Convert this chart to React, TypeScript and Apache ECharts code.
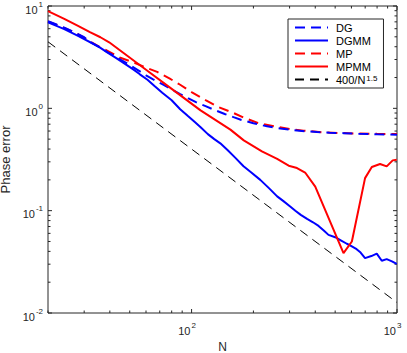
import React, { useEffect, useRef } from 'react';
import * as echarts from 'echarts';

// ---- data ----
const dgN = [20, 22, 24, 26, 28, 30, 32, 35, 38, 42, 45, 50, 55, 60, 65, 72, 80, 88, 96, 105, 117, 130, 145, 160, 175, 200, 233, 270, 314, 360, 408, 470, 549, 650, 800, 1000];
const dgV = [7.1, 6.6, 6.15, 5.7, 5.3, 4.95, 4.45, 4.05, 3.65, 3.25, 3.0, 2.65, 2.35, 2.1, 1.92, 1.72, 1.53, 1.38, 1.26, 1.15, 1.05, 0.96, 0.88, 0.82, 0.77, 0.715, 0.667, 0.635, 0.612, 0.597, 0.586, 0.578, 0.572, 0.565, 0.558, 0.553];

const dgmmN = [20, 22, 24, 26, 28, 30, 33, 36, 39, 43, 47, 52, 56, 61, 66, 72, 80, 88, 96, 104, 111, 120, 129, 138, 150, 163, 179, 196, 216, 238, 261, 280, 302, 320, 340, 365, 390, 415, 440, 464, 500, 535, 570, 600, 636, 665, 699, 750, 797, 843, 891, 945, 997];
const dgmmV = [6.94, 6.4, 5.95, 5.5, 5.1, 4.75, 4.3, 3.9, 3.5, 3.1, 2.75, 2.4, 2.15, 1.9, 1.65, 1.42, 1.2, 0.98, 0.84, 0.73, 0.65, 0.56, 0.5, 0.455, 0.39, 0.33, 0.272, 0.235, 0.2, 0.166, 0.138, 0.124, 0.11, 0.1, 0.091, 0.083, 0.077, 0.071, 0.064, 0.058, 0.055, 0.051, 0.0475, 0.045, 0.042, 0.039, 0.0344, 0.036, 0.038, 0.0324, 0.0336, 0.032, 0.0302];

const mpN = [20, 24, 28, 32, 36, 40, 45, 52.5, 60, 68, 78, 88, 100, 117, 135, 160, 180, 210, 261, 300, 351, 430, 529, 650, 800, 1000];
const mpV = [7.05, 6.1, 5.3, 4.5, 3.95, 3.55, 3.12, 2.8, 2.5, 2.27, 1.96, 1.7, 1.44, 1.2, 1.03, 0.9, 0.81, 0.72, 0.658, 0.628, 0.605, 0.585, 0.574, 0.567, 0.563, 0.56];

const mpmmN = [20, 24, 28, 32, 36, 39.7, 60, 80, 110.6, 154.5, 179.5, 220, 261, 297, 326, 357, 400, 549, 603, 699, 754, 827, 891, 953, 997];
const mpmmV = [8.9, 7.5, 6.4, 5.55, 4.95, 4.42, 2.38, 1.55, 0.956, 0.619, 0.486, 0.379, 0.32, 0.275, 0.261, 0.236, 0.172, 0.0385, 0.05, 0.208, 0.267, 0.286, 0.271, 0.31, 0.315];

const refN = [20, 1000];
const refV = [4.47, 0.01265];

const xTickValues = [20, 30, 40, 50, 60, 70, 80, 90, 100, 200, 300, 400, 500, 600, 700, 800, 900, 1000];
const yTickValues = [0.01, 0.02, 0.03, 0.04, 0.05, 0.06, 0.07, 0.08, 0.09, 0.1, 0.2, 0.3, 0.4, 0.5, 0.6, 0.7, 0.8, 0.9, 1, 2, 3, 4, 5, 6, 7, 8, 9, 10];

const legendNames = ['DG', 'DGMM', 'MP', 'MPMM', '400/N^1.5'];

const FONT = "'Liberation Sans', Arial, Helvetica, sans-serif";
const AX = '#262626';
const X_MIN = 20, X_MAX = 1000, Y_MIN = 0.01, Y_MAX = 10;

const zip = (n: number[], v: number[]) => n.map((x, i) => [x, v[i]]);
const isPow10 = (v: number) => {
  const e = Math.log10(v);
  return Math.abs(e - Math.round(e)) < 1e-6;
};
const powLabel = (v: number) => {
  if (!isPow10(v)) return '';
  return `{b|10}{s|${Math.round(Math.log10(v))}}`;
};

const richLabel = {
  b: { fontSize: 11, fontFamily: FONT, color: AX, lineHeight: 15, verticalAlign: 'bottom' },
  s: { fontSize: 8, fontFamily: FONT, color: AX, lineHeight: 9, verticalAlign: 'top', padding: [0, 0, 0, 1] },
};

export default function App() {
  const ref = useRef<HTMLDivElement>(null);
  useEffect(() => {
    document.body.style.margin = '0';
    const chart = echarts.init(ref.current!, null, { renderer: 'svg' });
    const lineSeries = (name: string, n: number[], v: number[], color: string, dashed: boolean, width = 2, dash = [10, 6]) => ({
      name,
      type: 'line',
      data: zip(n, v),
      symbol: 'none',
      showSymbol: false,
      smooth: false,
      lineStyle: { color, width, type: dashed ? dash : 'solid' },
      itemStyle: { color },
      emphasis: { disabled: true },
    });
    const option: any = {
      animation: false,
      backgroundColor: '#fff',
      grid: {
        left: 48, right: 10, top: 6, bottom: 40, show: true, borderColor: AX, borderWidth: 1, backgroundColor: 'transparent',
        containLabel: false, outerBoundsMode: 'none',
      },
      xAxis: {
        type: 'log', logBase: 10, min: X_MIN, max: X_MAX,
        axisLine: { show: false }, axisTick: { show: false }, splitLine: { show: false }, minorTick: { show: false },
        axisLabel: { formatter: powLabel, rich: richLabel, margin: 8, padding: [0, 9, 0, 0], showMinLabel: true, showMaxLabel: true },
        name: 'N', nameLocation: 'middle', nameGap: 27,
        nameTextStyle: { fontSize: 12, color: AX, fontFamily: FONT },
      },
      yAxis: {
        type: 'log', logBase: 10, min: Y_MIN, max: Y_MAX,
        axisLine: { show: false }, axisTick: { show: false }, splitLine: { show: false }, minorTick: { show: false },
        axisLabel: { formatter: powLabel, rich: richLabel, margin: 5, padding: [3, 0, 0, 0] },
        name: 'Phase error', nameLocation: 'middle', nameGap: 31, nameRotate: 90,
        nameTextStyle: { fontSize: 13, color: AX, fontFamily: FONT },
      },
      legend: {
        data: legendNames,
        orient: 'vertical', left: 288, top: 19,
        itemWidth: 33, itemHeight: 13, itemGap: 2,
        padding: [3, 6, 3, 6],
        backgroundColor: '#fff', borderColor: AX, borderWidth: 1,
        itemStyle: { opacity: 0 },
        formatter: (name: string) => (name === '400/N^1.5' ? '400/N{s|1.5}' : name),
        textStyle: {
          fontSize: 11, color: '#000', fontFamily: FONT, padding: [0, 0, 0, 3],
          rich: { s: { fontSize: 8, fontFamily: FONT, color: '#000', verticalAlign: 'top', lineHeight: 9, padding: [0, 0, 0, 1] } },
        },
        selectedMode: false,
        z: 10,
      },
      series: [
        lineSeries('MP', mpN, mpV, '#ff0000', true),
        lineSeries('DG', dgN, dgV, '#0000ff', true),
        lineSeries('DGMM', dgmmN, dgmmV, '#0000ff', false),
        lineSeries('MPMM', mpmmN, mpmmV, '#ff0000', false),
        lineSeries('400/N^1.5', refN, refV, '#000000', true, 1, [9, 6]),
        {
          type: 'custom', silent: true, clip: false,
          data: xTickValues.map((v) => [v, 1]),
          renderItem: (_p: any, api: any) => {
            const v = api.value(0);
            const len = isPow10(v) ? 4 : 2.5;
            const b = api.coord([v, Y_MIN]);
            const t = api.coord([v, Y_MAX]);
            return {
              type: 'group', children: [
                { type: 'line', shape: { x1: b[0], y1: b[1], x2: b[0], y2: b[1] - len }, style: { stroke: AX, lineWidth: 1 } },
                { type: 'line', shape: { x1: t[0], y1: t[1], x2: t[0], y2: t[1] + len }, style: { stroke: AX, lineWidth: 1 } },
              ],
            };
          },
        },
        {
          type: 'custom', silent: true, clip: false,
          data: yTickValues.map((v) => [100, v]),
          renderItem: (_p: any, api: any) => {
            const v = api.value(1);
            const len = isPow10(v) ? 4 : 2.5;
            const l = api.coord([X_MIN, v]);
            const r = api.coord([X_MAX, v]);
            return {
              type: 'group', children: [
                { type: 'line', shape: { x1: l[0], y1: l[1], x2: l[0] + len, y2: l[1] }, style: { stroke: AX, lineWidth: 1 } },
                { type: 'line', shape: { x1: r[0], y1: r[1], x2: r[0] - len, y2: r[1] }, style: { stroke: AX, lineWidth: 1 } },
              ],
            };
          },
        },
      ],
    };
    chart.setOption(option);
    return () => chart.dispose();
  }, []);
  return <div ref={ref} style={{ width: 407, height: 353 }} />;
}
